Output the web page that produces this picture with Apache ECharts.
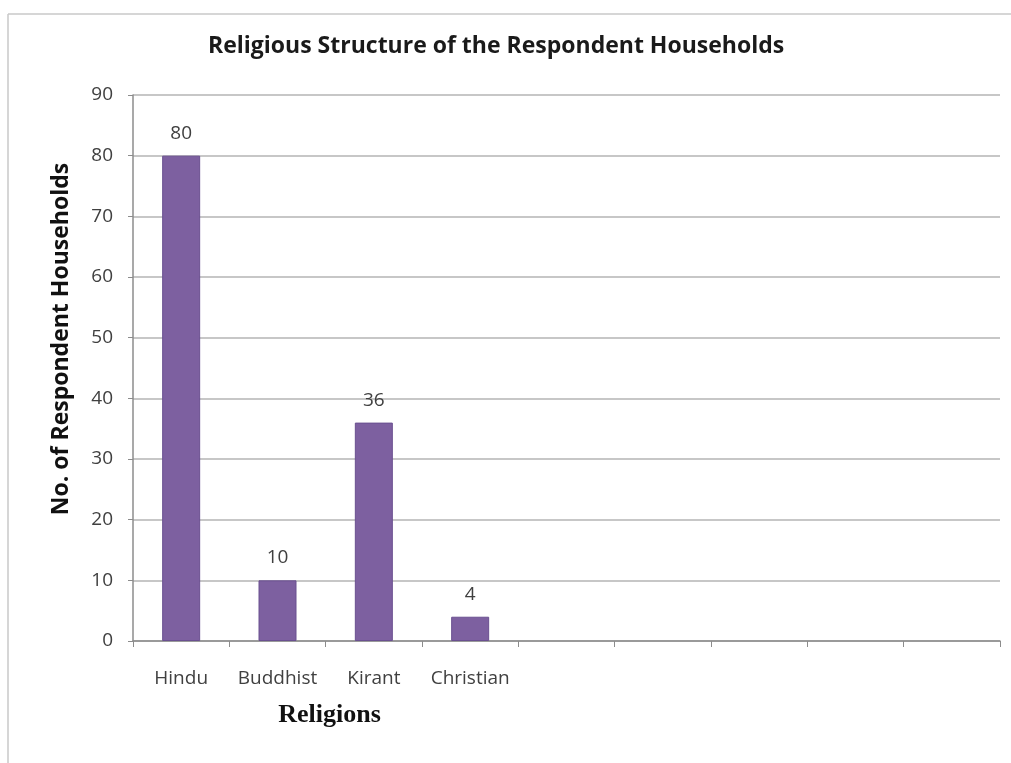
<!DOCTYPE html>
<html>
<head>
<meta charset="utf-8">
<script src="https://cdn.jsdelivr.net/npm/echarts@6/dist/echarts.min.js"></script>
<style>
html, body { margin: 0; padding: 0; background: #fff; }
#canvas { width: 1011px; height: 763px; }
</style>
</head>
<body>
<div id="canvas"></div>
<script>
// categories on the x axis (the empty slots are blank in the original chart)
var religions = ['Hindu', 'Buddhist', 'Kirant', 'Christian', '', '', '', '', ''];
var households = [80, 10, 36, 4, null, null, null, null, null];
var yTicks = [0, 10, 20, 30, 40, 50, 60, 70, 80, 90];

var dom = document.getElementById("canvas");
var myChart = echarts.init(dom);
var option = {
    animation: false,
    backgroundColor: '#fff',
    title: {
        text: 'Religious Structure of the Respondent Households',
        left: 203,
        top: 30,
        textStyle: {
            fontFamily: 'Open Sans',
            fontSize: 23,
            fontWeight: 'bold',
            color: '#1a1a1a'
        }
    },
    graphic: [
        { type: 'line', shape: { x1: 8, y1: 14, x2: 1011, y2: 14 }, style: { stroke: '#c8c8c8', lineWidth: 1.5 } },
        { type: 'line', shape: { x1: 8, y1: 14, x2: 8, y2: 763 }, style: { stroke: '#c8c8c8', lineWidth: 1.5 } }
    ],
    grid: { left: 133, right: 11, top: 95, bottom: 122 },
    xAxis: {
        type: 'category',
        data: religions,
        name: 'Religions',
        nameLocation: 'middle',
        nameGap: 61,
        nameTextStyle: {
            fontFamily: 'Liberation Serif',
            fontSize: 26,
            fontWeight: 'bold',
            color: '#111',
            padding: [0, 474, 0, 0]
        },
        axisLine: { lineStyle: { color: '#8c8c8c', width: 1.5 } },
        axisTick: { show: true, interval: 0, length: 6, lineStyle: { color: '#8c8c8c' } },
        axisLabel: { interval: 0, margin: 28, fontFamily: 'Open Sans', fontSize: 19, color: '#404040' }
    },
    yAxis: {
        type: 'value',
        min: 0,
        max: 90,
        interval: 10,
        name: 'No. of Respondent Households',
        nameLocation: 'middle',
        nameGap: 60,
        nameTextStyle: {
            fontFamily: 'Open Sans',
            fontSize: 23,
            fontWeight: 'bold',
            color: '#111',
            padding: [0, 0, 0, 58]
        },
        axisLine: { show: true, lineStyle: { color: '#8c8c8c', width: 1.5 } },
        axisTick: { show: true, length: 5, lineStyle: { color: '#8c8c8c' } },
        axisLabel: {
            margin: 20,
            fontFamily: 'Open Sans',
            fontSize: 19,
            color: '#404040',
            formatter: function (v) { return yTicks.indexOf(v) >= 0 ? String(v) : ''; }
        },
        splitLine: { lineStyle: { color: '#b4b4b4', width: 1.5 } }
    },
    series: [
        {
            name: 'Households',
            type: 'bar',
            data: households,
            barWidth: 38,
            itemStyle: { color: '#7d60a0', borderColor: '#6a5090', borderWidth: 1 },
            label: {
                show: true,
                position: 'top',
                distance: 13,
                fontFamily: 'Open Sans',
                fontSize: 19,
                color: '#404040'
            }
        }
    ]
};
myChart.setOption(option, true);
</script>
</body>
</html>
